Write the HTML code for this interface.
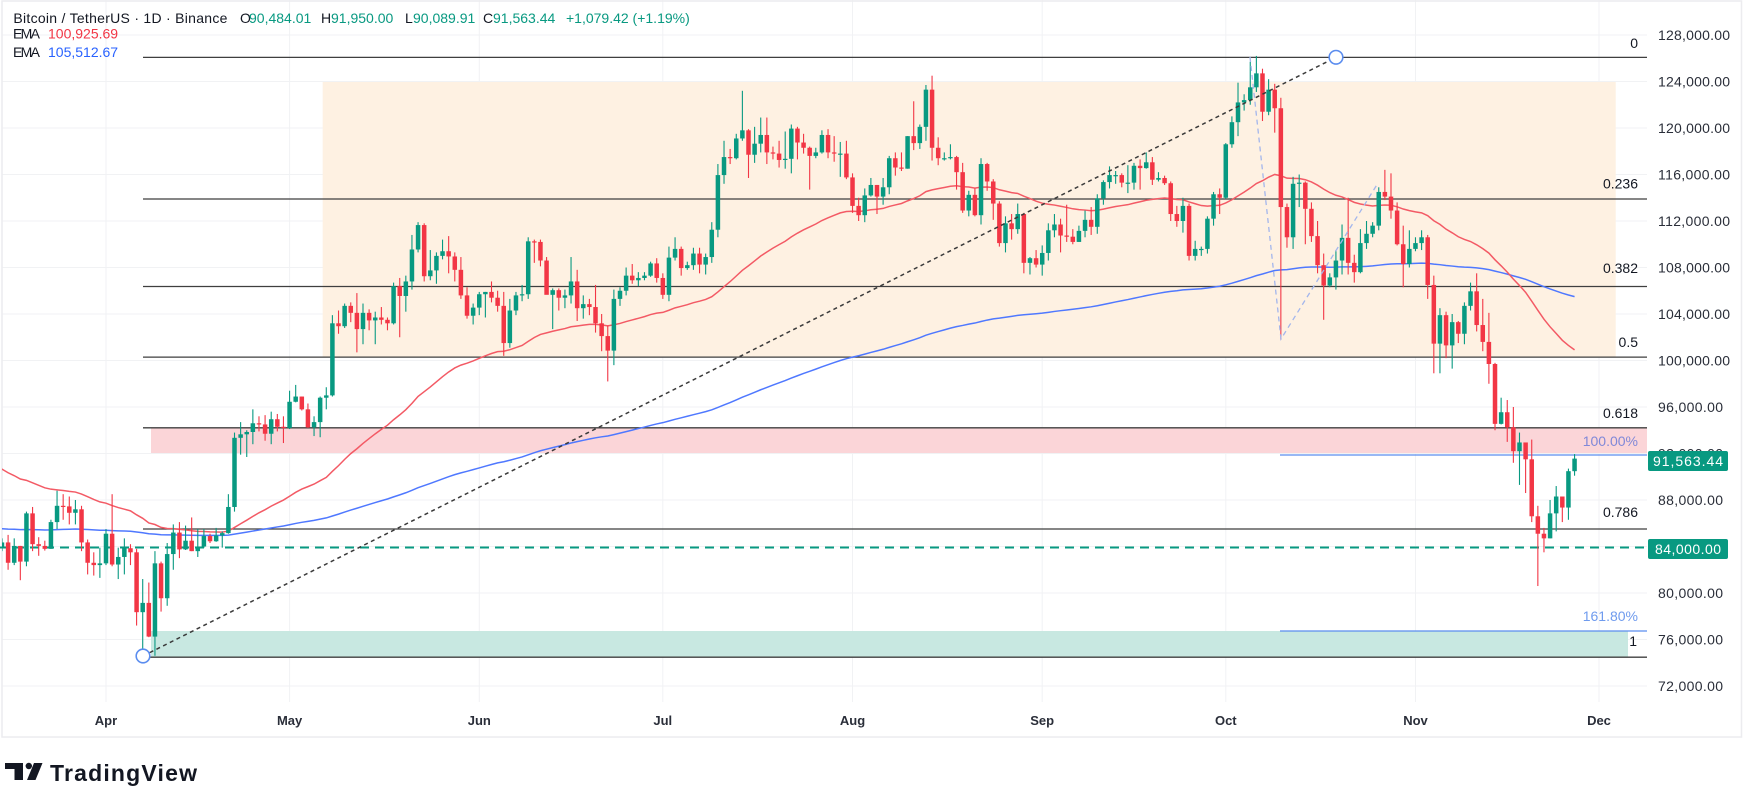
<!DOCTYPE html>
<html><head><meta charset="utf-8">
<style>
html,body{margin:0;padding:0;background:#fff;}
svg{display:block;}
text{font-family:"Liberation Sans",Arial,sans-serif;}
</style></head>
<body>
<svg id="c" width="1745" height="793" viewBox="0 0 1745 793" xmlns="http://www.w3.org/2000/svg">
<defs><clipPath id="pc"><rect x="2" y="0" width="1645" height="702"/></clipPath></defs>
<rect width="1745" height="793" fill="#fff"/>
<!-- grid -->
<g stroke="#f1f2f4" stroke-width="1">
<line x1="2" x2="1647" y1="35" y2="35"/><line x1="2" x2="1647" y1="81.5" y2="81.5"/><line x1="2" x2="1647" y1="128" y2="128"/><line x1="2" x2="1647" y1="174.5" y2="174.5"/><line x1="2" x2="1647" y1="221" y2="221"/><line x1="2" x2="1647" y1="267.5" y2="267.5"/><line x1="2" x2="1647" y1="314" y2="314"/><line x1="2" x2="1647" y1="360.5" y2="360.5"/><line x1="2" x2="1647" y1="407" y2="407"/><line x1="2" x2="1647" y1="453.5" y2="453.5"/><line x1="2" x2="1647" y1="500" y2="500"/><line x1="2" x2="1647" y1="546.5" y2="546.5"/><line x1="2" x2="1647" y1="593" y2="593"/><line x1="2" x2="1647" y1="639.5" y2="639.5"/><line x1="2" x2="1647" y1="686" y2="686"/>
<line x1="106" x2="106" y1="0" y2="702"/><line x1="289.6" x2="289.6" y1="0" y2="702"/><line x1="479.3" x2="479.3" y1="0" y2="702"/><line x1="662.8" x2="662.8" y1="0" y2="702"/><line x1="852.5" x2="852.5" y1="0" y2="702"/><line x1="1042.2" x2="1042.2" y1="0" y2="702"/><line x1="1225.8" x2="1225.8" y1="0" y2="702"/><line x1="1415.5" x2="1415.5" y1="0" y2="702"/><line x1="1599" x2="1599" y1="0" y2="702"/>
</g>
<!-- frame -->
<rect x="2" y="1" width="1739.5" height="736" fill="none" stroke="#ececef" stroke-width="1.5"/>
<!-- zones -->
<rect x="322.7" y="82" width="1293" height="275" fill="#fef1e2"/>
<rect x="151" y="428" width="1496" height="25" fill="#fbd5d8"/>
<rect x="151" y="631" width="1477" height="26" fill="#c8e8e1"/>
<!-- fib lines -->
<g stroke="#3f3f3f" stroke-width="1.3">
<line x1="143" x2="1647" y1="57.4" y2="57.4"/>
<line x1="143" x2="1647" y1="199" y2="199"/>
<line x1="143" x2="1647" y1="286.5" y2="286.5"/>
<line x1="143" x2="1647" y1="357.1" y2="357.1"/>
<line x1="143" x2="1647" y1="427.8" y2="427.8"/>
<line x1="143" x2="1647" y1="529" y2="529"/>
<line x1="143" x2="1647" y1="657.2" y2="657.2"/>
</g>
<line x1="0" x2="1647" y1="547.5" y2="547.5" stroke="#089981" stroke-width="2" stroke-dasharray="9 6"/>
<line x1="1280" x2="1647" y1="455" y2="455" stroke="#5b8def" stroke-width="1.2"/>
<line x1="1280" x2="1647" y1="631" y2="631" stroke="#5b8def" stroke-width="1.2"/>
<g id="series" clip-path="url(#pc)"></g>
<!-- drawing lines -->
<polyline points="1250,57 1281,339 1378,183" fill="none" stroke="#a3b6ec" stroke-width="1.3" stroke-dasharray="5 4"/>
<line x1="143" y1="656" x2="1336" y2="57.3" stroke="#3a3a3a" stroke-width="1.5" stroke-dasharray="4 3.5"/>
<circle cx="143" cy="656" r="6.8" fill="#fff" stroke="#5b8def" stroke-width="1.6"/>
<circle cx="1336" cy="57.3" r="6.8" fill="#fff" stroke="#5b8def" stroke-width="1.6"/>
<!-- fib labels -->
<g font-size="14" fill="#131722" text-anchor="end">
<text x="1638" y="48">0</text>
<text x="1638" y="188.5">0.236</text>
<text x="1638" y="273">0.382</text>
<text x="1638" y="347">0.5</text>
<text x="1638" y="418">0.618</text>
<text x="1638" y="517">0.786</text>
<text x="1637" y="646">1</text>
<text x="1638" y="446" fill="#8088d8">100.00%</text>
<text x="1638" y="621" fill="#6f9bee">161.80%</text>
</g>
<!-- price axis -->
<g font-size="14" fill="#2a2e39">
<text x="1658" y="40" textLength="72">128,000.00</text>
<text x="1658" y="86.5" textLength="72">124,000.00</text>
<text x="1658" y="133" textLength="72">120,000.00</text>
<text x="1658" y="179.5" textLength="72">116,000.00</text>
<text x="1658" y="226" textLength="72">112,000.00</text>
<text x="1658" y="272.5" textLength="72">108,000.00</text>
<text x="1658" y="319" textLength="72">104,000.00</text>
<text x="1658" y="365.5" textLength="72">100,000.00</text>
<text x="1658" y="412" textLength="65">96,000.00</text>
<text x="1658" y="458.5" textLength="65">92,000.00</text>
<text x="1658" y="505" textLength="65">88,000.00</text>
<text x="1658" y="598" textLength="65">80,000.00</text>
<text x="1658" y="644.5" textLength="65">76,000.00</text>
<text x="1658" y="691" textLength="65">72,000.00</text>
</g>
<rect x="1648" y="451" width="80" height="20" rx="2" fill="#089981"/>
<text x="1688" y="466" font-size="14" fill="#fff" text-anchor="middle" textLength="70">91,563.44</text>
<rect x="1648" y="539" width="80" height="20" rx="2" fill="#089981"/>
<text x="1688" y="554" font-size="14" fill="#fff" text-anchor="middle" textLength="66">84,000.00</text>
<!-- time axis -->
<g font-size="13" font-weight="bold" fill="#2a2e39" text-anchor="middle">
<text x="106" y="725">Apr</text><text x="289.6" y="725">May</text><text x="479.3" y="725">Jun</text><text x="662.8" y="725">Jul</text><text x="852.5" y="725">Aug</text><text x="1042.2" y="725">Sep</text><text x="1225.8" y="725">Oct</text><text x="1415.5" y="725">Nov</text><text x="1599" y="725">Dec</text>
</g>
<!-- legend -->
<g font-size="14" fill="#131722">
<text x="13.4" y="23" textLength="214">Bitcoin / TetherUS · 1D · Binance</text>
<text x="240" y="23">O</text><text x="249" y="23" fill="#089981">90,484.01</text>
<text x="321" y="23">H</text><text x="331" y="23" fill="#089981">91,950.00</text>
<text x="405" y="23">L</text><text x="413" y="23" fill="#089981">90,089.91</text>
<text x="483" y="23">C</text><text x="493" y="23" fill="#089981">91,563.44</text>
<text x="566" y="23" fill="#089981">+1,079.42 (+1.19%)</text>
<text x="13" y="38.5" textLength="27">EMA</text><text x="48" y="38.5" fill="#F23645">100,925.69</text>
<text x="13" y="57" textLength="27">EMA</text><text x="48" y="57" fill="#2962FF">105,512.67</text>
</g>
<!-- logo -->
<g fill="#131722">
<path d="M5 763 H23 V780 H14.5 V769 H5 Z"/>
<circle cx="28.8" cy="766" r="3.2"/>
<path d="M34 763 H42.5 L35.5 780 H27 Z"/>
</g>
<text x="50" y="781" font-size="23" font-weight="bold" fill="#131722" textLength="147">TradingView</text>
</svg>
<script>
(function(){
var D=[
[85.3,80.0,83.95],[84.7,83.6,84.35],[85.0,82.0,82.6],[84.7,82.4,84.05],[84.05,81.1,82.7],[87.0,82.3,86.85],[87.4,83.6,84.2],[84.8,83.2,84.05],[84.5,83.65,83.8],[86.3,83.8,86.1],[88.8,85.5,87.5],[88.5,86.3,87.45],[88.3,85.9,86.9],[88.0,85.9,87.2],[87.5,83.6,84.35],[84.6,81.6,82.6],[83.5,81.5,82.4],[83.9,81.3,82.55],
// Apr
[85.5,82.4,85.1],[88.5,82.3,82.45],[83.9,81.2,83.1],[84.7,81.6,83.85],[84.2,82.4,83.5],[83.8,77.2,78.35],[81.2,74.5,79.15],[80.9,76.2,76.25],[83.6,74.6,82.55],[82.7,78.4,79.55],
[84.3,78.9,83.35],[85.9,82.0,85.2],[86.1,83.0,83.75],[85.8,83.7,84.5],[86.5,83.6,83.6],[85.5,83.1,84.0],[85.5,83.9,84.9],[85.1,84.3,84.45],[85.6,84.4,84.95],[85.3,83.9,85.15],
[88.5,85.1,87.4],[93.8,87.0,93.35],[94.7,91.9,93.65],[94.0,91.7,93.85],[95.8,92.8,94.6],[95.2,93.9,94.5],[95.3,93.1,93.7],[95.6,92.8,94.95],[95.4,93.9,94.3],[95.2,92.9,94.2],
// May
[97.4,94.1,96.45],[97.9,96.4,96.9],[96.9,95.7,95.8],[96.3,94.2,94.25],[95.2,93.5,94.7],[96.9,93.4,96.8],[97.7,95.8,97.0],[103.9,96.9,103.2],[104.3,102.3,102.95],[104.9,102.8,104.7],
[105.0,103.3,104.1],[105.8,100.7,102.7],[104.9,101.4,104.1],[104.4,102.6,103.45],[104.2,101.4,103.7],[104.6,103.1,103.5],[103.7,102.6,103.2],[106.7,103.1,106.4],[107.1,102.0,105.55],[107.3,104.2,106.8],
[110.8,106.1,109.55],[111.9,109.3,111.65],[111.8,106.8,107.25],[109.5,106.9,107.75],[109.3,106.6,109.0],[110.4,108.7,109.4],[110.7,107.5,108.95],[109.3,106.8,107.8],[108.9,105.3,105.6],[106.3,103.6,103.85],[104.9,103.1,104.55],
// Jun
[105.9,103.9,105.7],[105.9,103.7,105.9],[106.8,105.0,105.4],[106.0,104.2,104.7],[105.9,100.4,101.5],[105.3,101.1,104.3],[105.9,103.9,105.6],[106.5,105.1,105.7],[110.6,105.3,110.25],[110.4,108.4,110.2],
[110.4,108.1,108.6],[108.9,105.7,105.65],[106.2,102.7,106.05],[106.2,104.3,105.4],[106.1,104.5,105.6],[108.9,104.9,106.8],[107.8,103.4,104.5],[105.6,103.6,104.85],[105.3,103.9,104.6],[106.5,102.4,103.2],
[104.0,100.8,102.1],[103.0,98.2,100.85],[106.1,99.6,105.3],[106.3,104.7,106.0],[108.0,105.6,107.3],[108.3,106.6,106.9],[107.6,106.4,107.1],[107.6,106.9,107.3],[108.5,107.2,108.35],[108.8,106.7,107.1],
// Jul
[107.5,105.3,105.65],[109.8,105.1,108.85],[110.6,108.6,109.6],[109.8,107.3,107.95],[108.5,107.8,108.2],[109.7,107.8,109.2],[109.7,107.5,108.25],[109.2,107.4,108.9],[111.9,108.4,111.25],[116.9,110.6,115.95],
[118.9,115.2,117.5],[118.2,116.9,117.4],[119.5,117.3,119.1],[123.2,118.9,119.8],[119.9,115.7,117.7],[120.1,117.0,118.65],[120.9,117.9,119.4],[120.9,116.9,117.9],[118.4,117.3,117.8],[118.9,116.6,117.25],
[119.7,116.5,117.35],[120.3,116.1,119.95],[120.1,117.3,118.75],[119.5,117.8,118.3],[118.4,114.7,117.6],[118.3,117.4,117.9],[119.8,117.8,119.4],[119.9,117.4,117.9],[119.3,117.1,117.8],[118.8,115.8,117.8],[118.9,115.6,115.75],
// Aug
[116.1,112.7,113.3],[114.0,112.0,112.5],[114.8,111.9,114.2],[115.7,114.1,115.1],[115.1,112.6,114.1],[115.7,113.4,114.9],[117.6,114.3,117.4],[117.9,115.9,116.6],[117.9,116.3,116.5],[119.3,116.5,119.3],
[122.3,118.1,118.7],[120.3,118.2,120.1],[123.7,118.9,123.3],[124.5,117.2,118.3],[119.2,116.8,117.4],[117.9,117.2,117.4],[118.6,117.3,117.5],[117.6,114.7,116.2],[117.0,112.7,112.9],[114.6,112.4,114.25],
[114.8,112.4,112.5],[117.4,111.7,116.9],[117.0,114.6,115.4],[115.6,112.1,113.5],[113.7,109.8,110.1],[112.4,109.3,111.8],[112.6,110.4,111.3],[113.5,110.9,112.6],[112.7,107.5,108.4],[108.9,107.4,108.8],[109.5,108.0,108.25],
// Sep
[109.9,107.3,109.25],[111.8,108.6,111.2],[112.6,110.6,111.7],[112.2,109.3,110.75],[113.4,110.2,110.65],[111.3,110.0,110.2],[111.6,110.2,111.15],[112.9,110.6,112.1],[113.2,110.8,111.5],[114.3,110.9,113.95],
[115.5,113.4,115.35],[116.7,114.8,115.95],[116.3,115.2,115.95],[116.1,114.9,115.3],[116.8,114.4,115.3],[117.0,114.7,116.75],[117.3,114.7,116.55],[117.9,116.5,117.05],[117.5,115.1,115.55],[116.2,115.4,115.7],
[115.9,115.1,115.25],[115.4,112.0,112.6],[113.3,111.5,112.0],[114.0,111.0,113.3],[113.5,108.6,109.0],[110.3,108.6,109.6],[109.8,109.0,109.6],[112.4,109.2,112.2],[114.5,111.6,114.3],[114.8,112.6,114.0],
// Oct
[118.7,113.9,118.6],[121.0,118.3,120.5],[123.9,119.3,122.2],[122.9,121.5,122.4],[125.7,122.0,123.5],[126.2,123.1,124.7],[125.1,120.6,121.4],[124.2,121.1,123.3],[123.8,119.6,121.7],[122.6,101.8,113.2],
[113.5,109.7,110.6],[115.8,109.6,115.2],[116.0,113.2,115.3],[115.4,110.0,113.05],[113.6,110.2,110.7],[112.0,107.5,108.2],[109.2,103.5,106.45],[107.5,106.3,107.15],[109.5,106.1,108.6],[111.7,107.4,110.55],
[114.0,107.4,108.4],[109.1,106.7,107.6],[111.3,107.5,110.1],[112.0,109.6,110.9],[111.9,110.6,111.6],[114.9,111.2,114.5],[116.4,113.8,114.1],[116.1,112.2,112.9],[113.6,109.9,110.0],[111.6,106.3,108.3],[111.2,108.0,109.6],
// Nov
[110.6,109.4,110.1],[111.2,109.5,110.6],[110.8,105.3,106.5],[107.3,98.9,101.45],[104.5,98.9,103.9],[104.2,100.2,101.3],[104.0,99.3,103.3],[103.4,101.5,102.3],[105.0,101.4,104.7],[106.7,104.3,105.95],
[107.5,102.5,103.05],[105.3,100.8,101.6],[104.1,98.0,99.7],[99.8,94.0,94.55],[96.8,94.5,95.55],[96.6,93.0,94.25],[96.0,91.2,92.2],[93.8,89.3,92.95],[92.9,88.6,91.5],[93.2,86.1,86.6],
[87.5,80.6,85.1],[85.6,83.5,84.7],[88.0,84.7,86.85],[89.2,85.3,88.3],[88.3,86.1,87.35],[90.7,86.3,90.48],[91.95,90.09,91.56]
];
function Y(p){return 35+(128-p)*11.625;}
function X(d){return 106+d*6.119;}
var NS="http://www.w3.org/2000/svg";
var g=document.getElementById("series");
var prev=80.7, e50=91.2, e200=85.55, a50=2/51, a200=2/201;
var p50=[], p200=[], s="";
for(var i=0;i<D.length;i++){
  var h=D[i][0], l=D[i][1], c=D[i][2], o=prev; prev=c;
  var x=X(i-18);
  e50+=a50*(c-e50); e200+=a200*(c-e200);
  p50.push(x.toFixed(2)+","+Y(e50).toFixed(2));
  p200.push(x.toFixed(2)+","+Y(e200).toFixed(2));
  var col=c>=o?"#089981":"#F23645";
  var yt=Math.min(Y(o),Y(c)), yb=Math.max(Y(o),Y(c));
  if(yb-yt<1.2){yb=yt+1.2;}
  s+='<rect x="'+(x-0.55).toFixed(2)+'" y="'+Y(h).toFixed(2)+'" width="1.1" height="'+(Y(l)-Y(h)).toFixed(2)+'" fill="'+col+'"/>';
  s+='<rect x="'+(x-2.25).toFixed(2)+'" y="'+yt.toFixed(2)+'" width="4.5" height="'+(yb-yt).toFixed(2)+'" fill="'+col+'"/>';
}
var lines='<polyline points="'+p200.join(" ")+'" fill="none" stroke="#4f78ff" stroke-width="1.5"/>'+
'<polyline points="'+p50.join(" ")+'" fill="none" stroke="#f35a65" stroke-width="1.5"/>';
var tmp=document.createElementNS(NS,"g");
g.innerHTML=lines+s;
})();
</script>
</body></html>
